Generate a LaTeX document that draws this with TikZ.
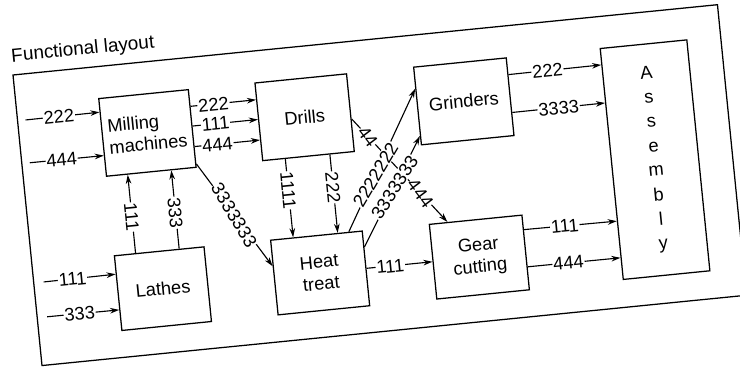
\documentclass[tikz,border=0pt]{standalone}
\usepackage{fontspec}
\setmainfont{Liberation Sans}
\usetikzlibrary{positioning,arrows.meta,calc}

\newcommand{\frametilt}{5.7}

\tikzset{
  box/.style={draw, line width=0.9pt, rotate=\frametilt, inner sep=2pt,
    font=\fontsize{13}{15.5}\selectfont},
  flow/.style={-{Stealth[length=6.5pt,width=4pt]}, line width=0.8pt},
  num/.style={fill=white, inner sep=0.6pt, text height=9.4pt, text depth=0pt,
    rotate=\frametilt, font=\fontsize{13}{15}\selectfont},
  vnum/.style={num, rotate=-90},
  snum/.style={fill=white, inner sep=0.4pt, text height=9.4pt, text depth=0pt,
    sloped, font=\fontsize{13}{15}\selectfont},
}

\begin{document}
\begin{tikzpicture}[x=0.025cm, y=-0.025cm]
  \useasboundingbox (0,0) rectangle (740,369);
  \clip (0,0) rectangle (740,369);
  \begin{scope}[shift={(13,75)}, rotate=\frametilt]
  % frame and title
  \draw[line width=0.9pt] (0,0) rectangle (708,292);
  \node[anchor=base west, rotate=\frametilt, inner sep=0pt,
    font=\fontsize{13.5}{16}\selectfont] (title) at (0,-13) {Functional layout};

  % departments
  \node[box, minimum width=2.25cm, minimum height=1.95cm, align=left] (mill) at (128,71) {Milling\\machines};
  \node[box, minimum width=2.3cm, minimum height=1.95cm] (drill) at (286,71) {Drills};
  \node[box, minimum width=2.325cm, minimum height=1.95cm] (grind) at (446,71) {Grinders};
  \node[box, minimum width=2.175cm, minimum height=5.8cm, align=center,
    font=\fontsize{13}{17.4}\selectfont] (assy) at (630.5,148) {A\\s\\s\\e\\m\\b\\l\\y};
  \node[box, minimum width=2.25cm, minimum height=1.875cm] (lathe) at (128,227.5) {Lathes};
  \node[box, minimum width=2.3cm, minimum height=1.875cm, align=center] (heat) at (286,227.5) {Heat\\treat};
  \node[box, minimum width=2.325cm, minimum height=1.875cm, align=center] (gear) at (446,227.5) {Gear\\cutting};

  % incoming parts
  \coordinate (m222) at (8,46);
  \coordinate (m444) at (8,89);
  \coordinate (l111) at (10,209);
  \coordinate (l333) at (10,244);
  \draw[flow] (m222) -- node[num, pos=0.45] {222} ($(mill.north west)!0.18!(mill.south west)$);
  \draw[flow] (m444) -- node[num, pos=0.43] {444} ($(mill.north west)!0.73!(mill.south west)$);
  \draw[flow] (l111) -- node[num, pos=0.4] {111} ($(lathe.north west)!0.25!(lathe.south west)$);
  \draw[flow] (l333) -- node[num, pos=0.45] {333} ($(lathe.north west)!0.72!(lathe.south west)$);

  % milling to drills
  \foreach \f/\n in {0.22/222, 0.47/111, 0.73/444}
    \draw[flow] ($(mill.north east)!\f!(mill.south east)$) -- node[num, pos=0.35] {\n}
      ($(drill.north west)!\f!(drill.south west)$);

  % lathes to milling
  \foreach \f/\n in {0.24/111, 0.72/333}
    \draw[flow] ($(lathe.north west)!\f!(lathe.north east)$) -- node[vnum, pos=0.46] {\n}
      ($(mill.south west)!\f!(mill.south east)$);

  % drills to heat treat
  \draw[flow] ($(drill.south west)!0.25!(drill.south east)$) -- node[vnum, pos=0.4] {1111}
    ($(heat.north west)!0.25!(heat.north east)$);
  \draw[flow] ($(drill.south west)!0.73!(drill.south east)$) -- node[vnum, pos=0.42] {222}
    ($(heat.north west)!0.73!(heat.north east)$);

  % milling to heat treat
  \draw[flow] ($(mill.north east)!0.95!(mill.south east)$) -- node[snum, pos=0.5] {3333333}
    ($(heat.north west)!0.35!(heat.south west)$);

  % drills to gear cutting
  \draw[flow] ($(drill.north east)!0.58!(drill.south east)$) -- node[snum, pos=0.17] {44}
    node[snum, pos=0.72] {444} ($(gear.north west)!0.2!(gear.north east)$);

  % heat treat to grinders
  \draw[flow] ($(heat.north west)!0.85!(heat.north east)$) -- node[snum, pos=0.4] {2222222}
    ($(grind.north west)!0.28!(grind.south west)$);
  \draw[flow] ($(heat.north east)!0.22!(heat.south east)$) -- node[snum, pos=0.54] {3333333}
    ($(grind.north west)!0.88!(grind.south west)$);

  % heat treat to gear cutting
  \draw[flow] (heat.east) -- node[num, pos=0.36] {111} (gear.west);

  % to assembly
  \draw[flow] ($(grind.north east)!0.22!(grind.south east)$) -- node[num, pos=0.42] {222}
    ($(assy.north west)!0.073!(assy.south west)$);
  \draw[flow] ($(grind.north east)!0.70!(grind.south east)$) -- node[num, pos=0.5] {3333}
    ($(assy.north west)!0.237!(assy.south west)$);
  \draw[flow] ($(gear.north east)!0.2!(gear.south east)$) -- node[num, pos=0.44] {111}
    ($(assy.north west)!0.746!(assy.south west)$);
  \draw[flow] ($(gear.north east)!0.69!(gear.south east)$) -- node[num, pos=0.44] {444}
    ($(assy.north west)!0.904!(assy.south west)$);
  \end{scope}
\end{tikzpicture}
\end{document}
